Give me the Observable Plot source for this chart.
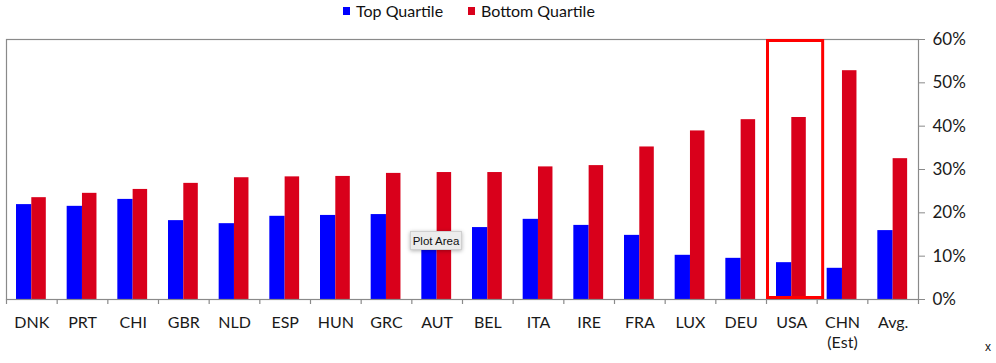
<!DOCTYPE html>
<html>
<head>
<meta charset="utf-8">
<script src="https://cdn.jsdelivr.net/npm/d3@7"></script>
<script src="https://cdn.jsdelivr.net/npm/@observablehq/plot@0.6"></script>
<style>
  body { margin: 0; background: #fff; font-family: Lato, "Open Sans", sans-serif; }
  #wrap { position: relative; width: 996px; height: 363px; overflow: hidden; }
  #legend { position: absolute; top: 0; left: 0; width: 996px; height: 24px; font-size: 16px; color: #111; }
  .sw { position: absolute; width: 7px; height: 8px; top: 7px; }
  .lt { position: absolute; top: 1px; white-space: nowrap; }
  #tip { position: absolute; left: 410px; top: 231px; width: 52px; height: 19px; background: #ececec;
         border: 1px solid #d0d0d0; box-shadow: 0 1px 4px rgba(0,0,0,0.3); font: 11.5px "Liberation Sans", Arial, sans-serif;
         color: #111; text-align: center; line-height: 19px; box-sizing: border-box; }
  #xmark { position: absolute; left: 985px; top: 340px; font: 12px "Liberation Sans", Arial, sans-serif; color: #111; }
</style>
</head>
<body>
<div id="wrap">
  <div id="chart"></div>
  <div id="legend"></div>
  <div id="tip">Plot Area</div>
  <div id="xmark">x</div>
</div>
<script>
const categories = ["DNK","PRT","CHI","GBR","NLD","ESP","HUN","GRC","AUT","BEL","ITA","IRE","FRA","LUX","DEU","USA","CHN\n(Est)","Avg."];
const topQuartile = [21.9,21.5,23.1,18.2,17.5,19.2,19.4,19.6,13.5,16.6,18.5,17.1,14.8,10.2,9.5,8.5,7.2,15.9];
const bottomQuartile = [23.5,24.5,25.4,26.8,28.1,28.3,28.4,29.1,29.3,29.3,30.6,30.9,35.2,38.9,41.5,42.0,52.8,32.5];
const seriesNames = ["Top Quartile","Bottom Quartile"];
const seriesColors = ["#0000ff","#d9001b"];
const yTicks = [0,10,20,30,40,50,60];
const highlighted = ["USA"];

const W = 996, H = 363, mL = 6, mR = 78, mT = 39, mB = 64;
const step = (W - mL - mR) / categories.length;

const topData = categories.map((c, i) => ({c, v: topQuartile[i] / 100}));
const botData = categories.map((c, i) => ({c, v: bottomQuartile[i] / 100}));

const yMax = yTicks[yTicks.length - 1] / 100;
const pxPerUnit = (H - mT - mB) / yMax;

const chart = Plot.plot({
  width: W, height: H,
  marginLeft: mL, marginRight: mR, marginTop: mT, marginBottom: mB,
  style: {fontFamily: "Lato, sans-serif", background: "white", color: "#1a1a1a", overflow: "visible"},
  x: {type: "band", domain: categories, padding: 0, round: false, axis: null},
  y: {domain: [0, yMax], axis: null},
  marks: [
    Plot.barY(topData, {x: "c", y: "v", fill: seriesColors[0], insetLeft: 10, insetRight: step - 25.3}),
    Plot.barY(botData, {x: "c", y: "v", fill: seriesColors[1], insetLeft: 25.3, insetRight: step - 39.8}),
    Plot.frame({stroke: "#8a8a8a", strokeWidth: 1.2}),
    Plot.ruleX(categories, {x: d => d, y1: 0, y2: -5 / pxPerUnit, dx: -step / 2, stroke: "#8a8a8a", strokeWidth: 1.2}),
    Plot.ruleX([categories[categories.length - 1]], {x: d => d, y1: 0, y2: -5 / pxPerUnit, dx: step / 2, stroke: "#8a8a8a", strokeWidth: 1.2}),
    Plot.axisY({anchor: "right", ticks: yTicks.map(d => d / 100), tickFormat: d3.format(".0%"),
      tickSize: 6, tickPadding: 8, fontSize: 17, stroke: "#8a8a8a", fill: "#1a1a1a", label: null}),
    Plot.axisX({anchor: "bottom", tickSize: 0, tickPadding: 14, fontSize: 16, lineHeight: 1.25, fill: "#1a1a1a", label: null}),
    Plot.barY(highlighted, {x: d => d, y1: 0, y2: yMax, fill: "none", stroke: "#ff0000", strokeWidth: 3,
      insetLeft: 1.5, insetRight: -6, insetTop: 1.5, insetBottom: 1.5})
  ]
});
document.getElementById("chart").appendChild(chart);

const legend = document.getElementById("legend");
const legendX = [[343, 356], [468, 481]];
seriesNames.forEach((name, i) => {
  const sw = document.createElement("div");
  sw.className = "sw"; sw.style.left = legendX[i][0] + "px"; sw.style.background = seriesColors[i];
  const t = document.createElement("div");
  t.className = "lt"; t.style.left = legendX[i][1] + "px"; t.textContent = name;
  legend.appendChild(sw); legend.appendChild(t);
});
</script>
</body>
</html>
